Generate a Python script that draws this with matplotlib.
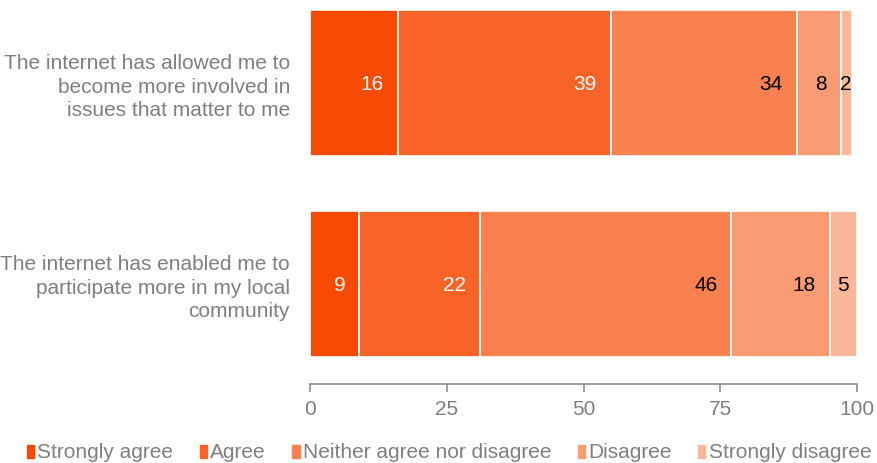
import matplotlib
matplotlib.use("Agg")
import matplotlib.pyplot as plt
from matplotlib.patches import Patch
import numpy as np

plt.rcParams['font.family'] = ['Liberation Sans', 'DejaVu Sans']

statements = [
    "The internet has allowed me to\nbecome more involved in\nissues that matter to me",
    "The internet has enabled me to\nparticipate more in my local\ncommunity",
]
responses = ["Strongly agree", "Agree", "Neither agree nor disagree",
             "Disagree", "Strongly disagree"]
strongly_agree = [16, 9]
agree = [39, 22]
neither = [34, 46]
disagree = [8, 18]
strongly_disagree = [2, 5]
ticks = [0, 25, 50, 75, 100]

series = [strongly_agree, agree, neither, disagree, strongly_disagree]
colors = ["#F84A00", "#F86428", "#F9814F", "#FB9B74", "#FCB698"]
label_colors = ["white", "white", "black", "black", "black"]
gray = "#7F7F7F"
fs = 15

fig = plt.figure(figsize=(8.77, 4.63), dpi=100)
ax = fig.add_axes([310 / 877, (463 - 384) / 463, 547 / 877, 384 / 463])

y = np.arange(len(statements))
left = np.zeros(len(statements))
for vals, col, lcol, name in zip(series, colors, label_colors, responses):
    vals = np.array(vals, dtype=float)
    ax.barh(y, vals, left=left, height=0.726, color=col,
            edgecolor="white", linewidth=1.2, label=name)
    for yi, (l, v) in enumerate(zip(left, vals)):
        if v >= 6:
            ax.annotate(f"{v:g}", (l + v, yi), xytext=(-10, -1),
                        textcoords="offset points", ha="right", va="center",
                        color=lcol, fontsize=fs)
        else:
            ax.annotate(f"{v:g}", (l + v / 2, yi), xytext=(0, -1),
                        textcoords="offset points", ha="center", va="center",
                        color=lcol, fontsize=fs)
    left += vals

ax.set_xlim(0, 100)
ax.set_ylim(1 + 100 / 201, -83 / 201)
ax.set_yticks(y)
ax.set_yticklabels(statements, ha="right", color=gray, fontsize=fs,
                   linespacing=1.27)
ax.tick_params(axis="y", length=0, pad=14.4)
ax.set_xticks(ticks)
ax.set_xticklabels([str(t) for t in ticks], color=gray, fontsize=fs)
ax.tick_params(axis="x", length=6, width=1.2, color="#8C8C8C", pad=5.5)
for s in ["top", "right", "left"]:
    ax.spines[s].set_visible(False)
ax.spines["bottom"].set_color("#8C8C8C")
ax.spines["bottom"].set_linewidth(1.2)

handles = [Patch(facecolor=c, edgecolor=c) for c in colors]
leg = fig.legend(handles, responses, loc="center left",
                 bbox_to_anchor=(27 / 877, 1 - 453 / 463), ncol=5,
                 frameon=False, fontsize=fs, handlelength=0.35,
                 handleheight=0.6, handletextpad=0.15, columnspacing=1.27,
                 borderaxespad=0, borderpad=0)
for t in leg.get_texts():
    t.set_color(gray)

fig.savefig("out.png", dpi=100)
